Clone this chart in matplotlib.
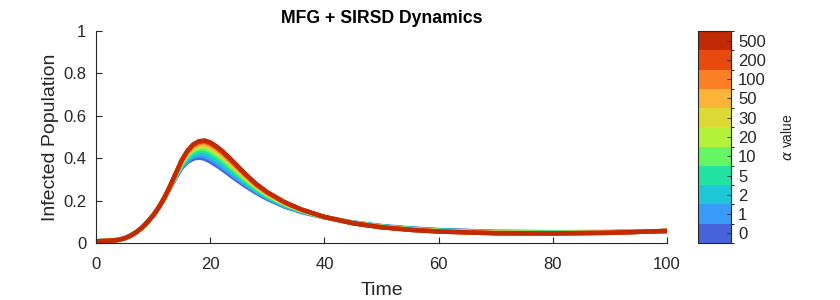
import matplotlib
matplotlib.use("Agg")
import matplotlib.pyplot as plt
from matplotlib.colors import ListedColormap, BoundaryNorm
from matplotlib.cm import ScalarMappable
import numpy as np

plt.rcParams['font.family'] = ['Liberation Sans', 'DejaVu Sans']

time = [0, 1, 2, 3, 4, 5, 6, 7, 8, 9, 10, 11, 12, 13, 14, 15, 16, 17, 18, 19, 20, 21, 22,
        24, 26, 28, 30, 33, 36, 40, 45, 50, 55, 60, 70, 80, 90, 100]

alpha_labels = ['0', '1', '2', '5', '10', '20', '30', '50', '100', '200', '500']

infected_a0 = [.008, .009, .010, .012, .015, .022, .034, .050, .071, .098, .130, .168,
               .212, .262, .310, .355, .382, .398, .403, .398, .385, .368, .350,
               .310, .272, .238, .208, .172, .146, .121, .097, .080, .069, .061, .053, .051, .052, .056]
infected_a1 = [.008, .009, .010, .012, .015, .022, .034, .050, .071, .098, .130, .168,
               .212, .263, .313, .360, .389, .407, .413, .409, .397, .380, .361,
               .320, .280, .244, .212, .175, .148, .121, .096, .079, .068, .060, .052, .050, .051, .056]
infected_a2 = [.008, .009, .010, .012, .015, .022, .034, .050, .071, .098, .130, .168,
               .213, .264, .315, .364, .396, .415, .423, .420, .408, .391, .373,
               .330, .287, .249, .216, .177, .149, .122, .096, .078, .067, .059, .051, .049, .051, .056]
infected_a5 = [.008, .009, .010, .012, .015, .022, .034, .050, .071, .098, .130, .168,
               .213, .265, .318, .370, .404, .426, .435, .434, .423, .406, .387,
               .342, .296, .256, .221, .181, .151, .122, .095, .077, .066, .058, .050, .048, .050, .056]
infected_a10 = [.008, .009, .010, .012, .015, .022, .034, .050, .071, .098, .130, .168,
                .214, .266, .321, .375, .412, .436, .446, .446, .435, .418, .399,
                .352, .305, .262, .226, .184, .153, .122, .095, .077, .065, .057, .049, .048, .050, .056]
infected_a20 = [.008, .009, .010, .012, .015, .022, .034, .050, .071, .098, .130, .168,
                .214, .267, .324, .379, .418, .444, .455, .456, .446, .429, .409,
                .361, .311, .267, .230, .186, .154, .122, .094, .076, .064, .056, .048, .047, .049, .057]
infected_a30 = [.008, .009, .010, .012, .015, .022, .034, .050, .071, .098, .130, .168,
                .214, .268, .325, .382, .422, .449, .462, .463, .453, .436, .416,
                .367, .316, .270, .232, .188, .155, .123, .094, .075, .064, .056, .048, .046, .049, .057]
infected_a50 = [.008, .009, .010, .012, .015, .022, .034, .050, .071, .098, .130, .168,
                .214, .269, .327, .384, .426, .454, .467, .469, .460, .443, .422,
                .372, .320, .273, .235, .189, .156, .123, .094, .075, .063, .055, .047, .046, .049, .057]
infected_a100 = [.008, .009, .010, .012, .015, .022, .034, .050, .071, .098, .130, .168,
                 .215, .269, .328, .386, .429, .458, .472, .475, .465, .448, .427,
                 .377, .324, .275, .237, .191, .157, .123, .093, .075, .063, .055, .047, .046, .048, .057]
infected_a200 = [.008, .009, .010, .012, .015, .022, .034, .050, .071, .098, .130, .168,
                 .215, .270, .329, .388, .432, .462, .476, .480, .470, .453, .433,
                 .381, .327, .278, .238, .192, .157, .123, .093, .074, .062, .054, .046, .045, .048, .057]
infected_a500 = [.008, .009, .010, .012, .015, .022, .034, .050, .071, .098, .130, .168,
                 .215, .270, .330, .390, .435, .465, .480, .484, .475, .458, .437,
                 .385, .330, .280, .240, .193, .158, .123, .093, .074, .062, .054, .046, .045, .048, .057]

series = [infected_a0, infected_a1, infected_a2, infected_a5, infected_a10, infected_a20,
          infected_a30, infected_a50, infected_a100, infected_a200, infected_a500]

colors = ['#4763d9', '#3a9af8', '#1dc7d6', '#22e3a2', '#66f663', '#b3f238',
          '#dcd935', '#fbb33a', '#fc7f28', '#e8490f', '#c02a05']

dark = '#262626'

fig = plt.figure(figsize=(8.4, 3.0), dpi=100)
ax = fig.add_axes([96/840, 1-243/300, (667-96)/840, (243-31)/300])

for vals, c in zip(series, colors):
    ax.plot(time, vals, color=c, lw=3.2, solid_capstyle='butt', solid_joinstyle='round')

ax.set_xlim(0, 100)
ax.set_ylim(0, 1)
ax.set_xticks([0, 20, 40, 60, 80, 100])
ax.set_yticks([0, 0.2, 0.4, 0.6, 0.8, 1.0])
ax.set_yticklabels(['0', '0.2', '0.4', '0.6', '0.8', '1'])
for s in ['top', 'right']:
    ax.spines[s].set_visible(False)
for s in ['left', 'bottom']:
    ax.spines[s].set_color(dark)
    ax.spines[s].set_linewidth(0.8)
ax.tick_params(direction='in', length=4, width=0.8, colors=dark, labelsize=12)
ax.tick_params(axis='x', pad=10)
ax.tick_params(axis='y', pad=7)
ax.set_xlabel('Time', fontsize=14, color=dark, labelpad=7)
ax.set_ylabel('Infected Population', fontsize=14, color=dark, labelpad=3)
ax.set_title('MFG + SIRSD Dynamics', fontsize=12.7, fontweight='bold', color='black', pad=6)

cax = fig.add_axes([698/840, 1-243/300, 33/840, (243-31)/300])
cmap = ListedColormap(colors)
norm = BoundaryNorm(np.arange(0, 12), cmap.N)
sm = ScalarMappable(norm=norm, cmap=cmap)
cb = fig.colorbar(sm, cax=cax, ticks=np.arange(11) + 0.5)
cb.set_ticklabels(alpha_labels)
cb.outline.set_edgecolor(dark)
cb.outline.set_linewidth(0.8)
cax.tick_params(direction='in', length=3, width=0.6, colors=dark, labelsize=12, pad=5)
cb.set_label(r'$\alpha$ value', fontsize=10, color=dark, labelpad=10)

fig.savefig('out.png', dpi=100)
